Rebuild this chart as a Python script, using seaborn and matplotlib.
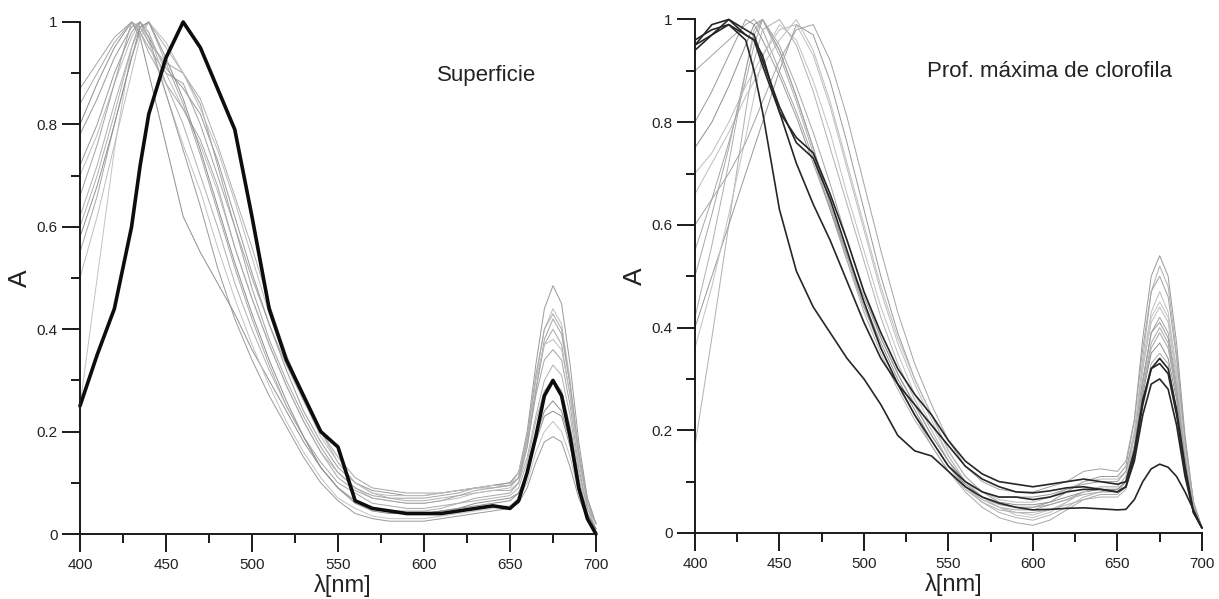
import matplotlib
matplotlib.use("Agg")
import matplotlib.pyplot as plt
from matplotlib.ticker import MultipleLocator
import seaborn as sns
import pandas as pd

# ---------------- data ----------------
WL = [400, 410, 420, 430, 435, 440, 450, 460, 470, 480, 490, 500, 510, 520, 530, 540,
      550, 560, 570, 580, 590, 600, 610, 620, 630, 640, 650, 655, 660, 665, 670, 675,
      680, 685, 690, 695, 700]

# Panel 1: "Superficie"
sup_black = [.25, .35, .44, .60, .72, .82, .93, 1.0, .95, .87, .79, .62, .44, .34, .27, .20,
             .17, .065, .05, .045, .04, .04, .04, .045, .05, .055, .05, .065, .12, .19, .27, .30,
             .27, .19, .09, .03, .0]
sup_g1 = [.87, .92, .97, 1.0, .98, .95, .90, .88, .80, .70, .60, .50, .41, .33, .26, .20,
          .15, .11, .09, .085, .08, .08, .08, .085, .09, .095, .10, .12, .18, .28, .38, .42,
          .39, .29, .16, .07, .02]
sup_g2 = [.62, .72, .84, .95, .99, 1.0, .95, .90, .85, .76, .66, .56, .45, .35, .27, .20,
          .14, .10, .08, .07, .065, .065, .07, .075, .08, .085, .085, .10, .15, .23, .30, .33,
          .31, .23, .12, .05, .01]
sup_g3 = [.78, .85, .93, .99, 1.0, .97, .91, .87, .82, .73, .62, .51, .41, .32, .24, .18,
          .13, .10, .085, .08, .075, .075, .08, .085, .09, .095, .10, .12, .20, .33, .44, .485,
          .45, .33, .18, .07, .02]
sup_g4 = [.70, .78, .88, .97, 1.0, .98, .90, .83, .76, .67, .56, .46, .37, .29, .22, .16,
          .12, .09, .07, .065, .06, .06, .065, .07, .08, .085, .09, .11, .18, .30, .40, .44,
          .41, .30, .16, .06, .02]
sup_g5 = [.55, .66, .80, .93, .98, 1.0, .92, .84, .74, .63, .52, .42, .33, .25, .19, .14,
          .10, .08, .06, .055, .05, .05, .055, .06, .07, .075, .08, .10, .17, .28, .37, .40,
          .37, .27, .15, .06, .02]
sup_g6 = [.80, .88, .95, 1.0, .97, .90, .76, .62, .55, .49, .43, .36, .30, .24, .18, .13,
          .09, .065, .05, .045, .04, .04, .045, .05, .055, .06, .065, .08, .12, .19, .24, .26,
          .24, .18, .09, .04, .01]
sup_g7 = [.25, .50, .75, .95, 1.0, .96, .86, .76, .67, .56, .46, .37, .29, .22, .16, .11,
          .07, .05, .035, .03, .03, .03, .035, .04, .045, .05, .055, .07, .10, .16, .20, .22,
          .20, .15, .08, .03, .01]
sup_g8 = [.66, .76, .88, 1.0, .99, .96, .92, .90, .84, .72, .60, .48, .38, .30, .23, .17,
          .12, .09, .075, .07, .07, .07, .075, .08, .09, .09, .095, .11, .17, .27, .34, .36,
          .34, .25, .13, .05, .02]
sup_g9 = [.60, .70, .82, .95, 1.0, .98, .88, .80, .70, .60, .49, .40, .32, .25, .19, .13,
          .09, .065, .05, .045, .045, .045, .05, .06, .065, .07, .075, .09, .14, .22, .28, .30,
          .28, .21, .11, .04, .01]
sup_g10 = [.72, .80, .90, .98, 1.0, .97, .86, .75, .64, .52, .42, .34, .27, .21, .15, .10,
           .065, .04, .03, .025, .025, .025, .03, .035, .04, .045, .05, .06, .09, .14, .18, .19,
           .18, .13, .07, .03, .01]
sup_g11 = [.50, .62, .76, .90, .97, 1.0, .96, .90, .83, .75, .65, .54, .43, .34, .26, .19,
           .14, .10, .08, .075, .075, .075, .08, .085, .09, .095, .095, .12, .19, .30, .37, .38,
           .36, .27, .14, .06, .02]
sup_g12 = [.84, .90, .96, 1.0, .98, .94, .88, .83, .77, .68, .56, .46, .37, .29, .22, .16,
           .11, .085, .07, .065, .06, .06, .065, .075, .085, .09, .095, .11, .19, .31, .40, .43,
           .40, .29, .16, .06, .02]
sup_g13 = [.58, .68, .80, .93, .99, 1.0, .93, .85, .75, .64, .53, .43, .34, .26, .19, .13,
           .09, .06, .045, .04, .04, .04, .045, .05, .06, .065, .07, .08, .12, .18, .23, .24,
           .23, .17, .09, .04, .01]

# Panel 2: "Prof. máxima de clorofila"
dcm_black1 = [.95, .97, .99, .96, .90, .82, .63, .51, .44, .39, .34, .30, .25, .19, .16, .15,
              .12, .09, .07, .058, .05, .045, .046, .048, .049, .047, .045, .046, .065, .10, .125, .134,
              .128, .11, .08, .045, .01]
dcm_black2 = [.94, .97, 1.0, .97, .96, .91, .82, .72, .64, .57, .49, .41, .34, .29, .25, .21,
              .17, .13, .105, .09, .08, .078, .082, .088, .09, .085, .08, .09, .15, .25, .32, .34,
              .32, .24, .13, .04, .01]
dcm_black3 = [.96, .98, .99, .97, .96, .93, .82, .77, .74, .66, .57, .47, .39, .32, .27, .23,
              .18, .14, .115, .10, .095, .09, .095, .10, .105, .10, .095, .10, .16, .26, .32, .33,
              .31, .23, .12, .04, .01]
dcm_black4 = [.95, .99, 1.0, .98, .97, .92, .83, .76, .73, .65, .55, .45, .36, .29, .23, .18,
              .13, .10, .08, .07, .07, .065, .07, .08, .085, .085, .08, .09, .14, .23, .29, .30,
              .28, .21, .11, .04, .01]
dcm_g1 = [.90, .93, .96, .99, 1.0, .98, .90, .82, .73, .63, .53, .44, .36, .29, .23, .18,
          .13, .09, .065, .05, .045, .045, .055, .065, .075, .08, .08, .10, .17, .29, .39, .42,
          .39, .29, .15, .05, .01]
dcm_g2 = [.17, .38, .60, .82, .92, .98, 1.0, .95, .86, .75, .64, .53, .42, .33, .26, .20,
          .14, .09, .06, .04, .03, .025, .035, .05, .07, .08, .085, .10, .19, .34, .47, .52,
          .48, .35, .18, .06, .01]
dcm_g3 = [.40, .50, .60, .70, .75, .80, .90, .99, .97, .88, .76, .63, .50, .39, .30, .23,
          .16, .11, .08, .06, .05, .05, .06, .08, .10, .11, .11, .13, .22, .38, .50, .54,
          .50, .37, .19, .06, .01]
dcm_g4 = [.66, .72, .78, .85, .88, .91, .96, 1.0, .94, .84, .72, .60, .48, .38, .30, .23,
          .16, .11, .08, .065, .06, .06, .07, .085, .10, .105, .105, .12, .20, .33, .43, .47,
          .43, .32, .17, .06, .01]
dcm_g5 = [.55, .65, .76, .88, .95, 1.0, .95, .87, .78, .68, .57, .47, .38, .31, .25, .19,
          .14, .10, .07, .055, .05, .05, .055, .065, .08, .085, .085, .10, .17, .28, .36, .39,
          .36, .27, .14, .05, .01]
dcm_g6 = [.75, .80, .87, .95, .99, 1.0, .94, .85, .75, .64, .54, .45, .37, .30, .24, .18,
          .13, .095, .07, .06, .055, .055, .06, .07, .08, .085, .085, .10, .16, .27, .35, .37,
          .34, .26, .13, .05, .01]
dcm_g7 = [.36, .48, .62, .77, .85, .93, .99, .96, .88, .78, .66, .55, .44, .35, .27, .21,
          .15, .10, .07, .05, .035, .03, .04, .06, .08, .09, .09, .11, .19, .32, .42, .45,
          .42, .31, .16, .06, .01]
dcm_g8 = [.60, .65, .70, .76, .80, .84, .92, .98, .99, .92, .81, .68, .55, .43, .33, .25,
          .18, .13, .10, .085, .08, .08, .09, .10, .12, .125, .12, .14, .22, .36, .47, .50,
          .46, .34, .18, .06, .01]
dcm_g9 = [.42, .56, .72, .90, .98, 1.0, .93, .84, .74, .63, .53, .43, .35, .28, .22, .17,
          .12, .085, .06, .045, .04, .04, .045, .055, .065, .07, .07, .085, .15, .25, .33, .35,
          .33, .24, .12, .05, .01]
dcm_g10 = [.80, .86, .93, 1.0, .99, .96, .89, .81, .72, .63, .54, .46, .38, .31, .25, .19,
           .14, .10, .08, .07, .07, .07, .075, .085, .095, .10, .10, .12, .19, .30, .39, .41,
           .38, .28, .15, .05, .01]
dcm_g11 = [.70, .74, .80, .87, .90, .93, .98, .99, .93, .83, .71, .59, .47, .37, .29, .22,
           .15, .10, .07, .05, .04, .035, .045, .06, .08, .09, .09, .11, .19, .32, .41, .44,
           .41, .30, .16, .05, .01]
dcm_g12 = [.50, .62, .75, .90, .97, 1.0, .94, .85, .75, .64, .54, .44, .36, .29, .23, .17,
           .12, .08, .05, .03, .02, .015, .025, .045, .065, .075, .075, .09, .16, .28, .37, .40,
           .37, .27, .14, .05, .01]

X_TICKS = [400, 450, 500, 550, 600, 650, 700]
Y_TICKS = [0, 0.2, 0.4, 0.6, 0.8, 1]
Y_TICKLABELS = ["0", "0.2", "0.4", "0.6", "0.8", "1"]
TITLES = ["Superficie", "Prof. máxima de clorofila"]

sup_grey = [sup_g1, sup_g2, sup_g3, sup_g4, sup_g5, sup_g6, sup_g7, sup_g8, sup_g9,
            sup_g10, sup_g11, sup_g12, sup_g13]
dcm_grey = [dcm_g1, dcm_g2, dcm_g3, dcm_g4, dcm_g5, dcm_g6, dcm_g7, dcm_g8, dcm_g9,
            dcm_g10, dcm_g11, dcm_g12]
dcm_black = [dcm_black1, dcm_black2, dcm_black3, dcm_black4]

# ---------------- style ----------------
sns.set_style("ticks")
plt.rcParams["font.family"] = ["Liberation Sans", "DejaVu Sans"]

fig = plt.figure(figsize=(12.19, 5.99), dpi=100)
ax1 = fig.add_axes([0.0656, 0.1085, 0.4233, 0.8548])
ax2 = fig.add_axes([0.5701, 0.1102, 0.4159, 0.8573])

greys = ["#a3a3a3", "#b2afad", "#9c9896", "#bdbdbd", "#aaa6a4", "#8f8f8f", "#c4c2c0"]


def draw_panel(ax, grey_list, black_list, black_lw, black_color, title, tx, ty, ylx):
    for i, vals in enumerate(grey_list):
        df = pd.DataFrame({"wl": WL, "A": vals})
        sns.lineplot(data=df, x="wl", y="A", ax=ax, color=greys[i % len(greys)],
                     lw=0.7, estimator=None, clip_on=False)
    for vals in black_list:
        df = pd.DataFrame({"wl": WL, "A": vals})
        sns.lineplot(data=df, x="wl", y="A", ax=ax, color=black_color,
                     lw=black_lw, estimator=None, clip_on=False)
    ax.set_xlim(400, 700)
    ax.set_ylim(0, 1)
    ax.set_xticks(X_TICKS)
    ax.set_xticklabels([str(t) for t in X_TICKS])
    ax.set_yticks(Y_TICKS)
    ax.set_yticklabels(Y_TICKLABELS)
    ax.xaxis.set_minor_locator(MultipleLocator(25))
    ax.yaxis.set_minor_locator(MultipleLocator(0.1))
    for s in ["top", "right"]:
        ax.spines[s].set_visible(False)
    for s in ["left", "bottom"]:
        ax.spines[s].set_linewidth(1.4)
        ax.spines[s].set_color("#1a1a1a")
    ax.tick_params(axis="both", which="major", length=13, width=1.4, color="#1a1a1a",
                   labelsize=11, labelcolor="#222222", direction="out")
    ax.tick_params(axis="both", which="minor", length=6.5, width=1.4, color="#1a1a1a",
                   direction="out")
    ax.tick_params(axis="x", which="major", pad=4.5)
    ax.tick_params(axis="y", which="major", pad=3)
    ax.set_xlabel("λ[nm]", fontsize=17, color="#222222")
    ax.xaxis.label.set_va("center")
    ax.xaxis.set_label_coords(0.51, -0.1)
    ax.set_ylabel("A", fontsize=19, color="#222222")
    ax.yaxis.set_label_coords(ylx, 0.50)
    ax.text(tx, ty, title, transform=ax.transAxes, fontsize=16, color="#222222",
            ha="center", va="center")


draw_panel(ax1, sup_grey, [sup_black], 2.6, "#0d0d0d", TITLES[0], 0.788, 0.896, -0.093)
draw_panel(ax2, dcm_grey, dcm_black, 1.2, "#262626", TITLES[1], 0.700, 0.899, -0.095)

fig.savefig("out.png", dpi=100)
